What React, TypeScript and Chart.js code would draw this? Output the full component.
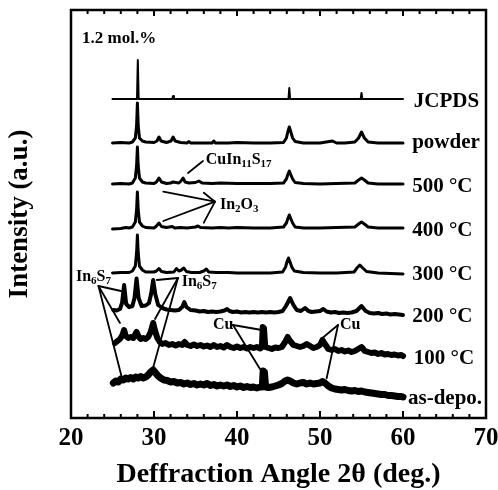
import { useEffect, useRef } from 'react';
import { Chart, registerables } from 'chart.js';
Chart.register(...registerables);

const FONT = '"Liberation Serif", "Times New Roman", serif';

type P = [number, number];

// 2θ (deg) vs stacked intensity (a.u.)
const jcpds: P[] = [
  [25, 319], [27.95, 319], [28.05, 358], [28.15, 319], [32.2, 319], [32.3, 322], [32.4, 319],
  [46.2, 319], [46.3, 330], [46.4, 319], [54.9, 319], [55.0, 325], [55.1, 319], [60, 319],
];
const powder: P[] = [
  [25, 275], [26, 275.5], [27, 275], [27.4, 276], [27.75, 280], [27.9, 292], [28.0, 315], [28.1, 292],
  [28.25, 280], [28.6, 277], [29, 276], [30, 275.5], [30.35, 277], [30.6, 281], [30.85, 277], [31.5, 275.5],
  [32.05, 277], [32.3, 281], [32.55, 277], [33.2, 275.5], [34, 275], [34.2, 276.5], [34.4, 275], [35.5, 275],
  [37, 275], [37.2, 277], [37.4, 275], [39, 275], [40, 275.5], [42, 275], [44, 275], [45.6, 275.5],
  [45.95, 280], [46.15, 287], [46.3, 291], [46.45, 287], [46.7, 280], [47, 276.5], [48, 275], [50, 275],
  [51.5, 277], [52, 275], [53, 275], [54.2, 276], [54.65, 280], [55.0, 286], [55.35, 280], [55.8, 276],
  [57, 275], [58.5, 275], [60, 275],
];
const c500: P[] = [
  [25, 234], [26, 234.5], [27, 234], [27.4, 235], [27.75, 240], [27.9, 252], [28.0, 271], [28.1, 252],
  [28.25, 240], [28.6, 236], [29, 235], [30, 234.5], [30.3, 236], [30.6, 240], [30.9, 236], [31.5, 234.5],
  [32, 235], [32.3, 236], [33.0, 235], [33.25, 237], [33.5, 240], [33.75, 236], [34.2, 235], [35.0, 235.5],
  [35.4, 237], [35.8, 235], [37, 234.5], [38, 235], [40, 234.5], [42, 234.5], [44, 234.5], [45.6, 235],
  [45.95, 239], [46.15, 244], [46.3, 247], [46.45, 244], [46.7, 239], [47, 235.5], [48, 234.5], [50, 234],
  [52, 234.5], [54.2, 235], [54.65, 238], [55.0, 240], [55.35, 238], [55.8, 235], [57, 234], [58.5, 234],
  [60, 234],
];
const c400: P[] = [
  [25, 189], [26, 189.5], [26.6, 190.5], [27, 190], [27.4, 191], [27.75, 196], [27.9, 208], [28.0, 226],
  [28.1, 208], [28.25, 196], [28.6, 192], [29, 190.5], [30, 190], [30.3, 192], [30.6, 195], [30.9, 191.5],
  [31.5, 190.5], [32.2, 191.5], [32.5, 190], [33.2, 190.5], [34, 190], [35.0, 191], [35.3, 192], [35.6, 190.5],
  [37, 190], [38, 190.5], [39, 190], [40, 190.5], [42, 190], [44, 190], [45.6, 191], [45.95, 195],
  [46.15, 200], [46.3, 203], [46.45, 200], [46.7, 195], [47, 191], [48, 190], [50, 190], [52, 190.5],
  [54.2, 191], [54.65, 194], [55.0, 196], [55.35, 194], [55.8, 191], [57, 190], [58.5, 190], [60, 190],
];
const c300: P[] = [
  [25, 145], [26, 145.5], [27, 145.5], [27.4, 147], [27.75, 152], [27.9, 165], [28.0, 183], [28.1, 165],
  [28.25, 152], [28.6, 148], [29, 146], [30, 146], [30.3, 147], [30.6, 149.5], [30.9, 146.5], [31.5, 145.5],
  [32.4, 146], [32.7, 149.5], [33.0, 147], [33.3, 148], [33.6, 150], [33.9, 146.5], [34.5, 145.5], [35.5, 145.5],
  [36.0, 147], [36.3, 149], [36.6, 146], [37.5, 145.5], [39, 145.5], [40, 145], [42, 145], [44, 145],
  [45.5, 146], [45.85, 151], [46.05, 157], [46.2, 160], [46.35, 157], [46.6, 151], [46.9, 147], [48, 145.5],
  [50, 145], [52, 145], [54.1, 146], [54.45, 150], [54.8, 153], [55.15, 150], [55.6, 146.5], [57, 145],
  [58.5, 144.5], [60, 144],
];
const c200: P[] = [
  [25.1, 108], [25.5, 107.5], [25.9, 109], [26.15, 115], [26.4, 133], [26.65, 114], [27.0, 111], [27.4, 112],
  [27.65, 120], [27.9, 139.5], [28.15, 120], [28.5, 112], [29.0, 112.5], [29.4, 115], [29.65, 124], [29.9, 138],
  [30.15, 124], [30.5, 113], [31.0, 110], [31.5, 108.5], [32.0, 108], [32.5, 107.5], [33.0, 108], [33.4, 111],
  [33.65, 116], [33.9, 111], [34.4, 108], [35.0, 107.5], [35.5, 106.5], [36.0, 107], [36.5, 106], [37.0, 106.5],
  [37.5, 106], [38.0, 106.5], [38.5, 107.5], [38.8, 109], [39.1, 107], [39.5, 106], [40, 106.5], [40.5, 105.5],
  [41, 106], [41.5, 105.5], [42, 106], [42.5, 105.5], [43, 106], [43.5, 105.5], [44, 106], [44.5, 105.5],
  [45, 106], [45.5, 107], [45.9, 112], [46.4, 120], [46.8, 113], [47.2, 108], [47.7, 107], [48.2, 110],
  [48.6, 107], [49, 106], [49.5, 106.5], [50, 107], [50.4, 109], [50.8, 106.5], [51.3, 105.5], [51.8, 106],
  [52.3, 105], [52.8, 105.5], [53.3, 105], [53.8, 105.5], [54.4, 107], [55.0, 112], [55.5, 107], [56, 105],
  [56.5, 104.5], [57, 105], [57.5, 104], [58, 104.5], [58.5, 103.5], [59, 104], [59.5, 103.5], [60, 103],
];
const c100: P[] = [
  [25.3, 75], [25.6, 77], [25.9, 79], [26.2, 83], [26.4, 88], [26.6, 82], [26.9, 80], [27.2, 81],
  [27.5, 80], [27.7, 83], [27.9, 86], [28.1, 82], [28.4, 79], [28.7, 80], [29.0, 79], [29.3, 81],
  [29.6, 86], [29.9, 95], [30.1, 88], [30.4, 80], [30.7, 76], [31.0, 74], [31.4, 75], [31.8, 73],
  [32.2, 74], [32.6, 72.5], [33.0, 74], [33.4, 73], [33.7, 76], [34.0, 73], [34.4, 72], [34.8, 73.5],
  [35.2, 72], [35.6, 73], [36.0, 71.5], [36.4, 72.5], [36.8, 71], [37.2, 73], [37.6, 71], [38.0, 72],
  [38.4, 70.5], [38.8, 73], [39.2, 71], [39.6, 70], [40.0, 71.5], [40.4, 70], [40.8, 71], [41.2, 69.5],
  [41.6, 71], [42.0, 70], [42.4, 71], [42.8, 69.5], [43.0, 71], [43.1, 91], [43.25, 90], [43.4, 71],
  [43.8, 70], [44.2, 69], [44.6, 70.5], [45.0, 70], [45.4, 71], [45.8, 76], [46.1, 81], [46.4, 77],
  [46.8, 73], [47.2, 72], [47.6, 71], [48.0, 72], [48.4, 74], [48.8, 72], [49.2, 70], [49.6, 71],
  [50.0, 73], [50.3, 78], [50.6, 74], [51.0, 69], [51.4, 68], [51.8, 69], [52.2, 67], [52.6, 68],
  [53.0, 66.5], [53.4, 67.5], [53.8, 66], [54.2, 67], [54.6, 69], [55.0, 71], [55.4, 67], [55.8, 66],
  [56.2, 65], [56.6, 65.5], [57.0, 64], [57.4, 65], [57.8, 63.5], [58.2, 64], [58.6, 63], [59.0, 63.5],
  [59.4, 62.5], [59.8, 63], [60, 62],
];
const asDepo: P[] = [
  [25.1, 35], [25.4, 37], [25.7, 36], [26.0, 39], [26.3, 38], [26.6, 40], [26.9, 39], [27.2, 40.5],
  [27.5, 39], [27.8, 41], [28.1, 40], [28.4, 41.5], [28.7, 40], [29.0, 41], [29.3, 43], [29.6, 46],
  [29.9, 48], [30.2, 45], [30.5, 42], [30.8, 40], [31.2, 38], [31.6, 37.5], [32.0, 36], [32.4, 36.5],
  [32.8, 35], [33.2, 35.5], [33.6, 34], [34.0, 35], [34.4, 33.5], [34.8, 34.5], [35.2, 33], [35.6, 34],
  [36.0, 33], [36.4, 34.5], [36.8, 32.5], [37.2, 33.5], [37.6, 32], [38.0, 33], [38.4, 32], [38.8, 33],
  [39.2, 31.5], [39.6, 32.5], [40.0, 31], [40.4, 32], [40.8, 30.5], [41.2, 31.5], [41.6, 30.5], [42.0, 31],
  [42.4, 30], [42.8, 31], [43.05, 31], [43.15, 47], [43.3, 46], [43.45, 31], [43.8, 30.5], [44.2, 31],
  [44.6, 32], [45.0, 33], [45.4, 34.5], [45.8, 37], [46.1, 38], [46.4, 37], [46.8, 35], [47.2, 34],
  [47.6, 35], [48.0, 35.5], [48.4, 34], [48.8, 35], [49.2, 34], [49.6, 34.5], [50.0, 35], [50.3, 36.5],
  [50.6, 35], [51.0, 32], [51.4, 30], [51.8, 29], [52.2, 28.5], [52.6, 28], [53.0, 28.5], [53.4, 27.5],
  [53.8, 27], [54.2, 27.5], [54.6, 26.5], [55.0, 27], [55.4, 26], [55.8, 25.5], [56.2, 25], [56.6, 24.5],
  [57.0, 24], [57.4, 23.5], [57.8, 23.5], [58.2, 22.5], [58.6, 22.5], [59.0, 22], [59.4, 21.5], [59.8, 21.5],
  [60, 21],
];

const series = [jcpds, powder, c500, c400, c300, c200, c100, asDepo];
const traceNames = ['JCPDS', 'powder', '500 °C', '400 °C', '300 °C', '200 °C', '100 °C', 'as-depo.'];
const labelLevels = [318, 277, 233, 189, 145, 103, 61, 21];
const labelX = [61.3, 61.1, 61.1, 61.1, 61.1, 61.1, 61.3, 60.6];
const lineWidths = [2, 3, 3, 3, 3, 4, 6, 7];

const chemLabels: { parts: [string, string][]; at: P }[] = [
  { parts: [['CuIn', '11'], ['S', '17']], at: [36.23, 254] },
  { parts: [['In', '2'], ['O', '3']], at: [37.95, 209] },
  { parts: [['In', '6'], ['S', '7']], at: [20.6, 137] },
  { parts: [['In', '6'], ['S', '7']], at: [33.34, 132] },
  { parts: [['Cu', '']], at: [37.11, 89] },
  { parts: [['Cu', '']], at: [52.41, 89] },
];
const leaders: [number, number, number, number][] = [
  [34.1, 245, 35.9, 257],
  [31.12, 226.3, 37.35, 216.3],
  [31.12, 197, 37.35, 216.3],
  [36.0, 225.3, 37.35, 216.3],
  [36.0, 195.3, 37.35, 216.3],
  [23.31, 132, 26.02, 127],
  [23.31, 132, 25.9, 95],
  [23.31, 132, 26.1, 41.3],
  [32.89, 140, 30.33, 138],
  [32.89, 140, 30.12, 99],
  [32.89, 140, 29.88, 50],
  [39.52, 93, 42.98, 88],
  [39.52, 93, 42.77, 49],
  [52.17, 93, 50.4, 80.7],
  [52.17, 93, 50.8, 39.7],
];
const sampleNote = '1.2 mol.%';
const notePos: P = [21.33, 375];

const decor = {
  id: 'decor',
  afterDraw(chart: any) {
    const ctx: CanvasRenderingContext2D = chart.ctx;
    const { left, right, top, bottom } = chart.chartArea;
    const xs = chart.scales.x;
    const ys = chart.scales.y;
    const X = (v: number) => xs.getPixelForValue(v);
    const Y = (v: number) => ys.getPixelForValue(v);
    ctx.save();
    ctx.strokeStyle = '#000';
    ctx.fillStyle = '#000';
    ctx.lineWidth = 2.5;
    ctx.strokeRect(left, top, right - left, bottom - top);
    ctx.lineWidth = 2;
    for (const t of xs.ticks) {
      const px = X(t.value);
      const major = t.value % 10 === 0;
      ctx.beginPath();
      ctx.moveTo(px, bottom);
      ctx.lineTo(px, bottom - (major ? 7 : 4));
      ctx.moveTo(px, top);
      ctx.lineTo(px, top + (major ? 6 : 4));
      ctx.stroke();
    }
    ctx.textBaseline = 'alphabetic';
    ctx.textAlign = 'left';
    ctx.font = `bold 21px ${FONT}`;
    traceNames.forEach((n, i) => {
      ctx.fillText(n, X(labelX[i]), Y(labelLevels[i]) + 7);
    });
    ctx.font = `bold 17px ${FONT}`;
    ctx.fillText(sampleNote, X(notePos[0]), Y(notePos[1]));
    for (const c of chemLabels) {
      let px = X(c.at[0]);
      const py = Y(c.at[1]);
      for (const [main, sub] of c.parts) {
        ctx.font = `bold 16px ${FONT}`;
        ctx.fillText(main, px, py);
        px += ctx.measureText(main).width;
        if (sub) {
          ctx.font = `bold 11px ${FONT}`;
          ctx.fillText(sub, px, py + 3);
          px += ctx.measureText(sub).width;
        }
      }
    }
    ctx.lineWidth = 1.8;
    ctx.lineCap = 'round';
    for (const [x1, y1, x2, y2] of leaders) {
      ctx.beginPath();
      ctx.moveTo(X(x1), Y(y1));
      ctx.lineTo(X(x2), Y(y2));
      ctx.stroke();
    }
    ctx.restore();
  },
};

export default function App() {
  const ref = useRef<HTMLCanvasElement>(null);
  useEffect(() => {
    const chart = new Chart(ref.current!, {
      type: 'scatter',
      data: {
        datasets: series.map((s, i) => ({
          label: traceNames[i],
          data: s.map(([x, y]) => ({ x, y })),
          showLine: true,
          borderColor: '#000',
          backgroundColor: '#000',
          borderWidth: lineWidths[i],
          pointRadius: 0,
          tension: 0,
          borderJoinStyle: 'round',
          borderCapStyle: 'round',
          fill: false,
        })),
      },
      options: {
        animation: false,
        responsive: false,
        layout: { padding: { top: 10, right: 12, left: 0, bottom: 0 } },
        plugins: { legend: { display: false }, tooltip: { enabled: false } },
        scales: {
          x: {
            type: 'linear',
            min: 20,
            max: 70,
            grid: { display: false },
            border: { display: false },
            ticks: {
              stepSize: 2,
              autoSkip: false,
              maxRotation: 0,
              padding: 0,
              color: '#000',
              font: { family: FONT, size: 25, weight: 'bold', lineHeight: 1 },
              callback: (v: any) => (Number(v) % 10 === 0 ? String(v) : ''),
            },
            title: {
              display: true,
              text: 'Deffraction Angle 2θ (deg.)',
              color: '#000',
              font: { family: FONT, size: 28, weight: 'bold', lineHeight: 1 },
              padding: { top: 0, bottom: 1 },
            },
            afterFit: (s: any) => {
              s.height = 72;
              s.paddingLeft = 0;
              s.paddingRight = 0;
            },
          },
          y: {
            min: 0,
            max: 408,
            grid: { display: false },
            border: { display: false },
            ticks: { display: false },
            title: {
              display: true,
              text: 'Intensity (a.u.)',
              color: '#000',
              font: { family: FONT, size: 27, weight: 'bold', lineHeight: 1 },
              padding: { top: 7, bottom: 0 },
            },
            afterFit: (s: any) => {
              s.width = 71;
              s.paddingTop = 0;
              s.paddingBottom = 0;
            },
          },
        },
      },
      plugins: [decor],
    } as any);
    return () => chart.destroy();
  }, []);
  return (
    <div style={{ position: 'absolute', left: 0, top: 0, width: 498, height: 490, background: '#fff' }}>
      <canvas ref={ref} width={498} height={490} style={{ display: 'block' }} />
    </div>
  );
}
